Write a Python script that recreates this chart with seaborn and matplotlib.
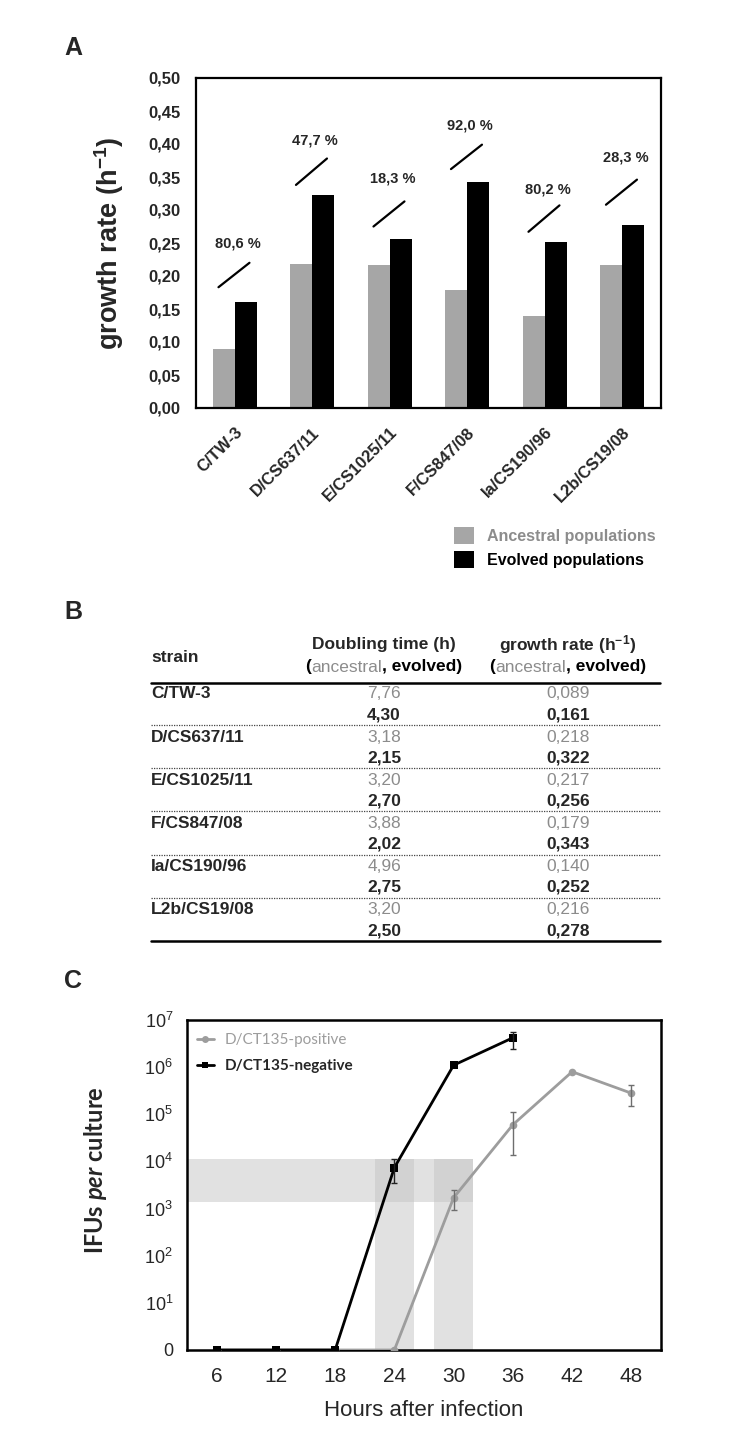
import numpy as np
import pandas as pd
import matplotlib
matplotlib.use("Agg")
import matplotlib.pyplot as plt
import seaborn as sns
from matplotlib.lines import Line2D
from matplotlib.patches import Patch
from matplotlib.ticker import NullLocator

# ---------------- data ----------------
strains = ["C/TW-3", "D/CS637/11", "E/CS1025/11", "F/CS847/08", "Ia/CS190/96", "L2b/CS19/08"]
ancestral_rate = [0.089, 0.218, 0.217, 0.179, 0.140, 0.216]
evolved_rate = [0.161, 0.322, 0.256, 0.343, 0.252, 0.278]
rate_increase = ["80,6 %", "47,7 %", "18,3 %", "92,0 %", "80,2 %", "28,3 %"]
ancestral_doubling = [7.76, 3.18, 3.20, 3.88, 4.96, 3.20]
evolved_doubling = [4.30, 2.15, 2.70, 2.02, 2.75, 2.50]
population_labels = ["Ancestral populations", "Evolved populations"]

hours_positive = [6, 12, 18, 24, 30, 36, 42, 48]
ifu_positive = [0, 0, 0, 0, 1.7e3, 6.0e4, 8.0e5, 2.8e5]
ifu_positive_low = [np.nan, np.nan, np.nan, np.nan, 9.5e2, 1.35e4, np.nan, 1.5e5]
ifu_positive_high = [np.nan, np.nan, np.nan, np.nan, 2.5e3, 1.1e5, np.nan, 4.1e5]
hours_negative = [6, 12, 18, 24, 30, 36]
ifu_negative = [0, 0, 0, 7.4e3, 1.1e6, 4.2e6]
ifu_negative_low = [np.nan, np.nan, np.nan, 3.5e3, np.nan, 2.4e6]
ifu_negative_high = [np.nan, np.nan, np.nan, 1.15e4, np.nan, 5.5e6]
series_labels = ["D/CT135-positive", "D/CT135-negative"]

threshold_band = (1.4e3, 1.1e4)
threshold_hours = (3, 32)
window_negative = (22, 26)
window_positive = (28, 32)

# annotation geometry for the % labels (slash line and text heights)
slash_y0 = [0.183, 0.338, 0.275, 0.362, 0.267, 0.308]
slash_y1 = [0.220, 0.378, 0.313, 0.399, 0.307, 0.346]
label_y = [0.250, 0.405, 0.347, 0.428, 0.331, 0.379]

GREY = "#a6a6a6"
TXT_GREY = "#8c8c8c"

# ---------------- style ----------------
sns.set_theme(style="white")
plt.rcParams["font.family"] = ["Liberation Sans", "DejaVu Sans"]
plt.rcParams["mathtext.fontset"] = "custom"
plt.rcParams["mathtext.rm"] = "Liberation Sans"
plt.rcParams["mathtext.bf"] = "Liberation Sans:bold"
plt.rcParams["mathtext.it"] = "Lato:italic:bold"

W, H = 733, 1455
fig = plt.figure(figsize=(W / 100, H / 100), dpi=100)


def px_axes(l, t, r, b):
    return fig.add_axes([l / W, 1 - b / H, (r - l) / W, (b - t) / H])


def comma(v, nd):
    return f"{v:.{nd}f}".replace(".", ",")


# ---------------- Panel A ----------------
axA = px_axes(196, 78, 661, 408)
dfA = pd.DataFrame({
    "strain": strains * 2,
    "population": [population_labels[0]] * len(strains) + [population_labels[1]] * len(strains),
    "rate": ancestral_rate + evolved_rate,
})
sns.barplot(data=dfA, x="strain", y="rate", hue="population", order=strains,
            hue_order=population_labels, palette=[GREY, "black"], width=0.57, gap=0,
            saturation=1, linewidth=0, legend=False, ax=axA)
axA.set_xlim(-0.5, len(strains) - 0.5)
axA.set_ylim(0, 0.5)
yt = np.linspace(0, 0.5, 11)
axA.set_yticks(yt)
axA.set_yticklabels([comma(v, 2) for v in yt], fontsize=12, fontweight="bold")
axA.set_xticks(range(len(strains)))
axA.set_xticklabels(strains, rotation=45, ha="right", rotation_mode="anchor",
                    fontsize=12, fontweight="bold")
axA.tick_params(axis="both", direction="out", length=5, width=1.5, color="black")
axA.tick_params(axis="y", pad=6)
axA.tick_params(axis="x", pad=7)
for sp in axA.spines.values():
    sp.set_visible(True)
    sp.set_color("black")
    sp.set_linewidth(1.6)
axA.set_xlabel("")
axA.set_ylabel(r"growth rate (h$^{\mathbf{-1}}$)", fontsize=19.5, fontweight="bold")
axA.yaxis.set_label_coords((126 - 196) / 465, 0.5)

for i, lab in enumerate(rate_increase):
    axA.plot([i - 0.21, i + 0.19], [slash_y0[i], slash_y1[i]], color="black", lw=1.6)
    axA.text(i + 0.04, label_y[i], lab, ha="center", va="center", fontsize=10.5,
             fontweight="bold")

handles = [Patch(facecolor=GREY, edgecolor="none"), Patch(facecolor="black", edgecolor="none")]
legA = axA.legend(handles, population_labels, loc="upper left",
                  bbox_to_anchor=((454 - 196) / 465, (408 - 527) / 330),
                  frameon=False, borderpad=0, borderaxespad=0, handlelength=1.25,
                  handleheight=1.25, handletextpad=0.8, labelspacing=0.45,
                  prop={"weight": "bold", "size": 11.5})
legA.get_texts()[0].set_color(TXT_GREY)
legA.get_texts()[1].set_color("black")

# ---------------- Panel B (table) ----------------
axB = px_axes(140, 600, 670, 960)
axB.set_xlim(140, 670)
axB.set_ylim(960, 600)
axB.axis("off")
FS = 12.5
col_dt, col_gr, x_left, x_right = 384, 568, 151, 660

axB.text(x_left, 658, "strain", ha="left", va="center", fontsize=FS, fontweight="bold")
axB.text(col_dt, 645, "Doubling time (h)", ha="center", va="center", fontsize=FS, fontweight="bold")
axB.text(col_gr, 645, r"growth rate (h$^{\mathbf{-1}}$)", ha="center", va="center",
         fontsize=FS, fontweight="bold")

renderer = fig.canvas.get_renderer()


def multicolor(xc, y, pieces):
    texts = []
    prev = None
    for s, c, w in pieces:
        if prev is None:
            t = axB.text(xc, y, s, color=c, fontweight=w, fontsize=FS, ha="left", va="center")
        else:
            t = axB.annotate(s, xy=(1, 0.5), xycoords=prev, color=c, fontweight=w,
                             fontsize=FS, ha="left", va="center")
        texts.append(t)
        prev = t
    total = sum(t.get_window_extent(renderer).width for t in texts)
    texts[0].set_x(xc - total / 2)


sub = [("(", "black", "bold"), ("ancestral", TXT_GREY, "normal"), (", evolved)", "black", "bold")]
multicolor(col_dt, 667, sub)
multicolor(col_gr, 667, sub)

axB.plot([x_left, x_right], [683, 683], color="black", lw=1.8)
pitch = 43.2
for i, s in enumerate(strains):
    ya = 694 + pitch * i
    ye = ya + 20.5
    axB.text(x_left, ya, s, ha="left", va="center", fontsize=FS, fontweight="bold")
    axB.text(col_dt, ya, comma(ancestral_doubling[i], 2), ha="center", va="center",
             fontsize=FS, color=TXT_GREY)
    axB.text(col_dt, ye, comma(evolved_doubling[i], 2), ha="center", va="center",
             fontsize=FS, fontweight="bold")
    axB.text(col_gr, ya, comma(ancestral_rate[i], 3), ha="center", va="center",
             fontsize=FS, color=TXT_GREY)
    axB.text(col_gr, ye, comma(evolved_rate[i], 3), ha="center", va="center",
             fontsize=FS, fontweight="bold")
    if i < len(strains) - 1:
        axB.plot([x_left, x_right], [ya + 31, ya + 31], color="#444444", lw=0.9,
                 linestyle=(0, (1, 1)))
axB.plot([x_left, x_right], [941, 941], color="black", lw=1.8)

# ---------------- Panel C ----------------
axC = px_axes(187, 1020, 661, 1350)
axC.set_yscale("symlog", linthresh=10, linscale=0.9)
axC.set_xlim(3, 51)
axC.set_ylim(0, 1e7)

band_kw = dict(color="#c4c4c4", alpha=0.5, lw=0, zorder=0)
axC.fill_between(list(threshold_hours), threshold_band[0], threshold_band[1], **band_kw)
axC.fill_between(list(window_negative), 0, threshold_band[1], **band_kw)
axC.fill_between(list(window_positive), 0, threshold_band[1], **band_kw)

dfC = pd.DataFrame({
    "hours": hours_positive + hours_negative,
    "ifu": ifu_positive + ifu_negative,
    "series": [series_labels[0]] * len(hours_positive) + [series_labels[1]] * len(hours_negative),
})
C_GREY = "#9d9d9d"
sns.lineplot(data=dfC, x="hours", y="ifu", hue="series", style="series",
             hue_order=series_labels, style_order=series_labels,
             palette={series_labels[0]: C_GREY, series_labels[1]: "black"},
             markers={series_labels[0]: "o", series_labels[1]: "s"}, dashes=False,
             linewidth=2, markersize=5.5, markeredgewidth=0, legend=False, ax=axC, zorder=3)


def errbars(x, y, lo, hi, color):
    x = np.array(x, float); y = np.array(y, float)
    lo = np.array(lo, float); hi = np.array(hi, float)
    m = ~np.isnan(lo)
    axC.errorbar(x[m], y[m], yerr=[y[m] - lo[m], hi[m] - y[m]], fmt="none", ecolor=color,
                 elinewidth=1, capsize=2.5, capthick=1, zorder=4)


errbars(hours_positive, ifu_positive, ifu_positive_low, ifu_positive_high, "#6e6e6e")
errbars(hours_negative, ifu_negative, ifu_negative_low, ifu_negative_high, "#222222")

axC.set_xticks(range(6, 49, 6))
axC.set_xticklabels([str(h) for h in range(6, 49, 6)], fontsize=15)
ytC = [0] + [10 ** k for k in range(1, 8)]
axC.set_yticks(ytC)
axC.set_yticklabels(["0"] + [rf"$10^{{{k}}}$" for k in range(1, 8)], fontsize=13)
axC.yaxis.set_minor_locator(NullLocator())
axC.tick_params(axis="both", direction="out", length=4, width=1.5, color="black")
axC.tick_params(axis="x", pad=8)
axC.tick_params(axis="y", pad=6)
for sp in axC.spines.values():
    sp.set_visible(True)
    sp.set_color("black")
    sp.set_linewidth(1.8)
axC.set_xlabel("Hours after infection", fontsize=16, labelpad=10)
axC.set_ylabel(r"IFUs $per$ culture", fontsize=17, fontweight="bold", family="Lato")
axC.yaxis.set_label_coords((109 - 187) / 474, (1350 - 1170) / 330)

hC = [Line2D([], [], color=C_GREY, marker="o", lw=2, ms=5, markeredgewidth=0),
      Line2D([], [], color="black", marker="s", lw=2, ms=4.5, markeredgewidth=0)]
legC = axC.legend(hC, series_labels, loc="upper left",
                  bbox_to_anchor=((197 - 187) / 474, (1350 - 1033) / 330),
                  frameon=False, borderpad=0, borderaxespad=0, handlelength=1.1,
                  handletextpad=0.7, labelspacing=0.8,
                  prop={"family": "Lato", "weight": "bold", "size": 11})
legC.get_texts()[0].set_color(C_GREY)
legC.get_texts()[0].set_fontweight("normal")

# ---------------- panel letters ----------------
fig.text(73 / W, 1 - 48 / H, "A", ha="center", va="center", fontsize=18, fontweight="bold")
fig.text(73 / W, 1 - 612 / H, "B", ha="center", va="center", fontsize=18, fontweight="bold")
fig.text(73 / W, 1 - 981 / H, "C", ha="center", va="center", fontsize=18, fontweight="bold")

fig.savefig("out.png", dpi=100)
